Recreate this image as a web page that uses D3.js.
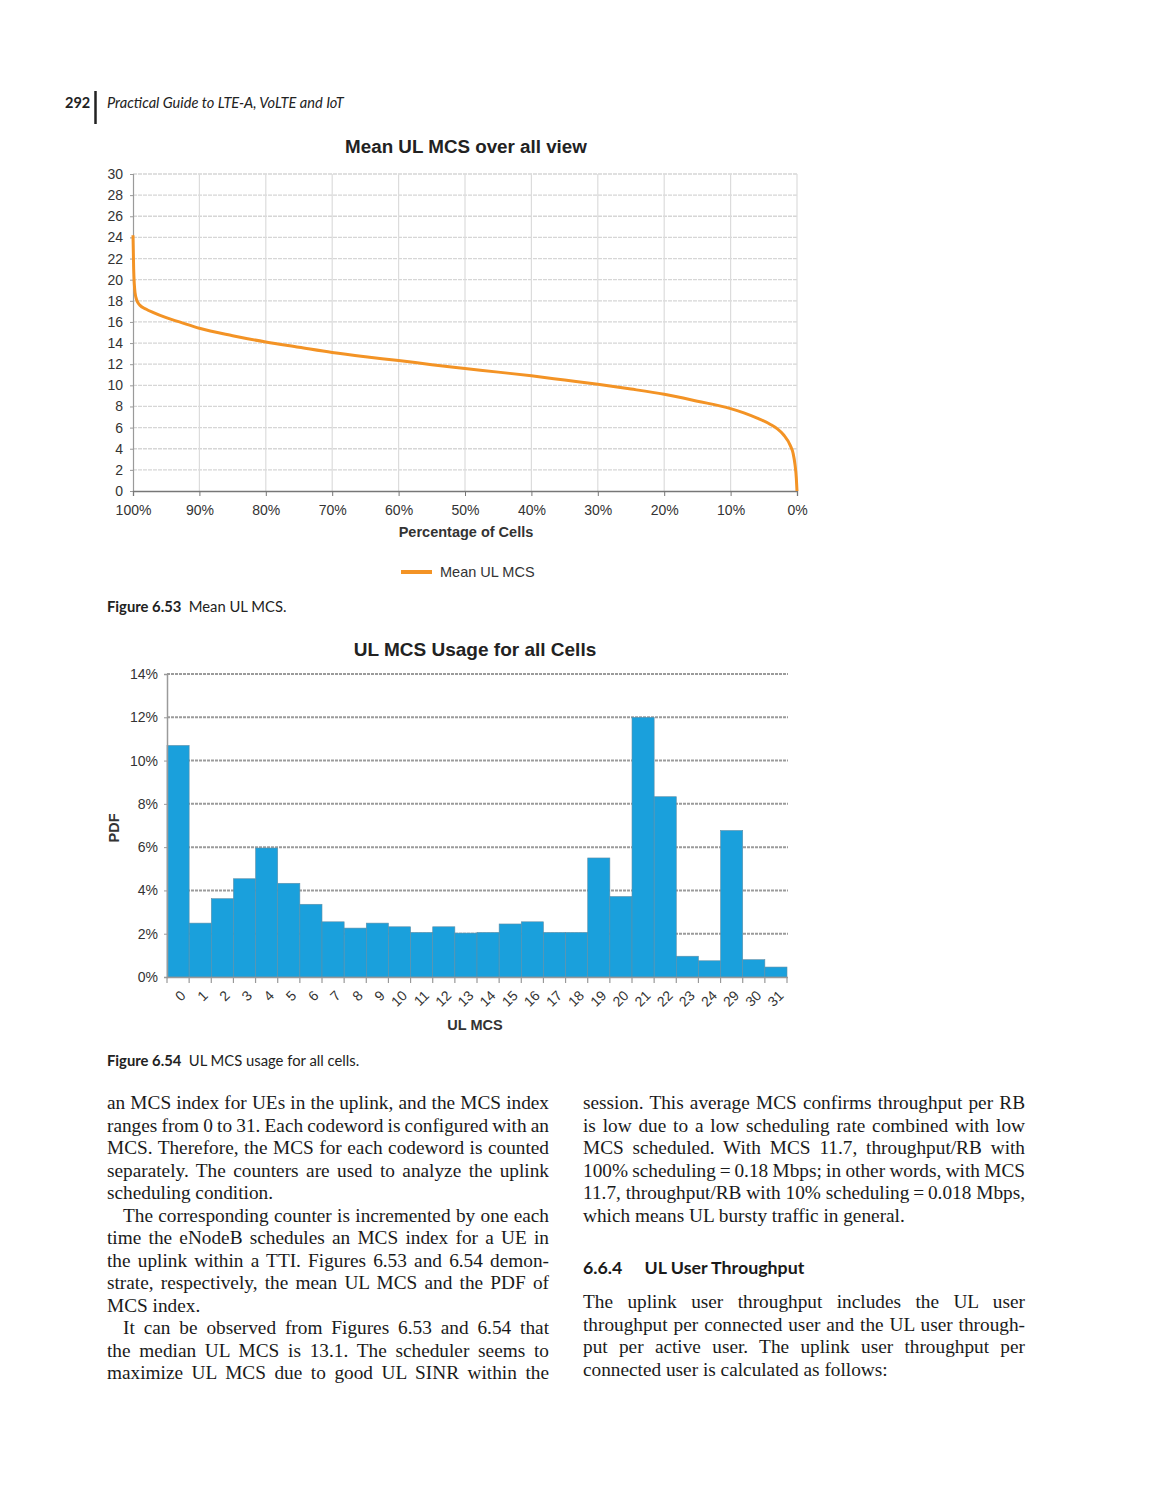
<!DOCTYPE html>
<html><head><meta charset="utf-8">
<script src="https://d3js.org/d3.v7.min.js"></script>
<style>
html,body{margin:0;padding:0;background:#fff;}
svg{display:block;}
</style></head>
<body>
<svg id="page" width="1161" height="1500"></svg>
<script>
// ---------- DATA ----------
const meanTitle = "Mean UL MCS over all view";
const meanPct = [100, 99.9, 99.7, 99.4, 99, 98, 97, 95, 93, 90, 85, 80, 75, 70, 65, 60, 55, 50, 45, 40, 35, 30, 25, 20, 15, 10, 8, 6, 4, 3, 2, 1, 0.6, 0.3, 0.1, 0];
const meanMcs = [24.2, 21, 18.8, 18.0, 17.6, 17.2, 16.9, 16.4, 16.0, 15.4, 14.7, 14.1, 13.6, 13.1, 12.7, 12.35, 11.95, 11.6, 11.25, 10.9, 10.5, 10.1, 9.65, 9.15, 8.5, 7.8, 7.4, 6.9, 6.3, 5.9, 5.3, 4.3, 3.6, 2.5, 1.2, 0];
const meanYTicks = [0,2,4,6,8,10,12,14,16,18,20,22,24,26,28,30];
const meanXTicks = [100,90,80,70,60,50,40,30,20,10,0];

const pdfTitle = "UL MCS Usage for all Cells";
const pdfCats = ["0","1","2","3","4","5","6","7","8","9","10","11","12","13","14","15","16","17","18","19","20","21","22","23","24","29","30","31"];
const pdfVals = [10.7, 2.49, 3.62, 4.54, 5.96, 4.33, 3.36, 2.55, 2.26, 2.49, 2.32, 2.06, 2.32, 2.03, 2.06, 2.45, 2.55, 2.06, 2.06, 5.50, 3.72, 12.0, 8.33, 0.96, 0.75, 6.77, 0.80, 0.46];
const pdfYTicks = [0,2,4,6,8,10,12,14];

const leftLines = [
 ["an MCS index for UEs in the uplink, and the MCS index", true, 0],
 ["ranges from 0 to 31. Each codeword is configured with an", true, 0],
 ["MCS. Therefore, the MCS for each codeword is counted", true, 0],
 ["separately. The counters are used to analyze the uplink", true, 0],
 ["scheduling condition.", false, 0],
 ["The corresponding counter is incremented by one each", true, 16],
 ["time the eNodeB schedules an MCS index for a UE in", true, 0],
 ["the uplink within a TTI. Figures 6.53 and 6.54 demon-", true, 0],
 ["strate, respectively, the mean UL MCS and the PDF of", true, 0],
 ["MCS index.", false, 0],
 ["It can be observed from Figures 6.53 and 6.54 that", true, 16],
 ["the median UL MCS is 13.1. The scheduler seems to", true, 0],
 ["maximize UL MCS due to good UL SINR within the", true, 0]
];
const rightLines1 = [
 ["session. This average MCS confirms throughput per RB", true, 0],
 ["is low due to a low scheduling rate combined with low", true, 0],
 ["MCS scheduled. With MCS 11.7, throughput/RB with", true, 0],
 ["100% scheduling\u2009=\u20090.18 Mbps; in other words, with MCS", true, 0],
 ["11.7, throughput/RB with 10% scheduling\u2009=\u20090.018 Mbps,", true, 0],
 ["which means UL bursty traffic in general.", false, 0]
];
const rightLines2 = [
 ["The uplink user throughput includes the UL user", true, 0],
 ["throughput per connected user and the UL user through-", true, 0],
 ["put per active user. The uplink user throughput per", true, 0],
 ["connected user is calculated as follows:", false, 0]
];

// ---------- PAGE ----------
const svg = d3.select("#page");
const sans = "Liberation Sans, Arial, sans-serif";
const uiSans = "Lato, 'Open Sans', sans-serif";
const serif = "Liberation Serif, 'DejaVu Serif', serif";

// header
svg.append("text").attr("x",65).attr("y",108).attr("font-family",uiSans).attr("font-weight","bold").attr("font-size",14.5).attr("fill","#222").text("292");
svg.append("line").attr("x1",95.5).attr("x2",95.5).attr("y1",91).attr("y2",124).attr("stroke","#222").attr("stroke-width",2.5);
svg.append("text").attr("x",107).attr("y",108).attr("font-family",uiSans).attr("font-style","italic").attr("font-size",14.6).attr("fill","#222").text("Practical Guide to LTE-A, VoLTE and IoT");

// ---------- CHART 1 ----------
{
 const x = d3.scaleLinear().domain([100,0]).range([133,797]);
 const y = d3.scaleLinear().domain([0,30]).range([491,174]);
 const g = svg.append("g");
 g.append("g").selectAll("line").data(meanYTicks.filter(d=>d>0)).join("line")
  .attr("x1",133).attr("x2",797).attr("y1",d=>y(d)).attr("y2",d=>y(d))
  .attr("stroke","#d6d6d6").attr("stroke-width",1.3).attr("stroke-dasharray","4,1");
 g.append("g").selectAll("line").data(meanXTicks.filter(d=>d<100)).join("line")
  .attr("x1",d=>x(d)).attr("x2",d=>x(d)).attr("y1",174).attr("y2",491)
  .attr("stroke","#dcdcdc").attr("stroke-width",1.2);
 const ya = g.append("g").attr("transform","translate(133,0)")
  .call(d3.axisLeft(y).tickValues(meanYTicks).tickSize(3).tickPadding(7).tickFormat(d3.format("d")));
 ya.select(".domain").attr("stroke","#9a9a9a").attr("stroke-width",1.2);
 ya.selectAll(".tick line").attr("stroke","#9a9a9a");
 ya.selectAll("text").attr("font-family",sans).attr("font-size",14).attr("fill","#333");
 const xa = g.append("g").attr("transform","translate(0,491)")
  .call(d3.axisBottom(x).tickValues(meanXTicks).tickSize(5).tickPadding(9).tickFormat(d=>d+"%"));
 xa.select(".domain").attr("stroke","#777").attr("stroke-width",1.3);
 xa.selectAll(".tick line").attr("stroke","#777");
 xa.selectAll("text").attr("font-family",sans).attr("font-size",14).attr("fill","#333");
 const pts = meanPct.map((p,i)=>({p, v:meanMcs[i]}));
 g.append("path").datum(pts)
  .attr("d", d3.line().x(d=>x(d.p)).y(d=>y(d.v)).curve(d3.curveMonotoneX))
  .attr("fill","none").attr("stroke","#f39325").attr("stroke-width",3).attr("stroke-linejoin","round");
 g.append("text").attr("x",466).attr("y",153).attr("text-anchor","middle").attr("font-family",sans).attr("font-weight","bold").attr("font-size",18.8).attr("fill","#222").text(meanTitle);
 g.append("text").attr("x",466).attr("y",537).attr("text-anchor","middle").attr("font-family",sans).attr("font-weight","bold").attr("font-size",14.5).attr("fill","#333").text("Percentage of Cells");
 g.append("line").attr("x1",401).attr("x2",432).attr("y1",572).attr("y2",572).attr("stroke","#f39325").attr("stroke-width",4);
 g.append("text").attr("x",440).attr("y",577).attr("font-family",sans).attr("font-size",14.5).attr("fill","#333").text("Mean UL MCS");
}

// caption 1
{
 const t = svg.append("text").attr("x",107).attr("y",612).attr("font-family",uiSans).attr("font-size",14.8).attr("fill","#222");
 t.append("tspan").attr("font-weight","bold").text("Figure 6.53");
 t.append("tspan").text("\u2002Mean UL MCS.");
}

// ---------- CHART 2 ----------
{
 const x = d3.scaleBand().domain(pdfCats).range([167,787]).padding(0);
 const y = d3.scaleLinear().domain([0,14]).range([977,674]);
 const g = svg.append("g");
 g.append("g").selectAll("line").data(pdfYTicks.filter(d=>d>0)).join("line")
  .attr("x1",167).attr("x2",788).attr("y1",d=>y(d)).attr("y2",d=>y(d))
  .attr("stroke","#9b9b9b").attr("stroke-width",2).attr("stroke-dasharray","3,1");
 g.append("g").selectAll("rect").data(pdfCats).join("rect")
  .attr("x",d=>x(d)).attr("width",x.bandwidth())
  .attr("y",(d,i)=>y(pdfVals[i])).attr("height",(d,i)=>977-y(pdfVals[i]))
  .attr("fill","#1aa0dc").attr("stroke","#5f8fa8").attr("stroke-width",0.6);
 const ya = g.append("g").attr("transform","translate(167,0)")
  .call(d3.axisLeft(y).tickValues(pdfYTicks).tickSize(3).tickPadding(6).tickFormat(d=>d+"%"));
 ya.select(".domain").attr("stroke","#9a9a9a").attr("stroke-width",1.5);
 ya.selectAll(".tick line").attr("stroke","#9a9a9a");
 ya.selectAll("text").attr("font-family",sans).attr("font-size",14).attr("fill","#333");
 g.append("line").attr("x1",167).attr("x2",788).attr("y1",977.5).attr("y2",977.5).attr("stroke","#999").attr("stroke-width",1.3);
 const edges = pdfCats.map(d=>x(d)).concat([x.range()[1]]);
 g.append("g").selectAll("line").data(edges).join("line")
  .attr("x1",d=>d).attr("x2",d=>d).attr("y1",977).attr("y2",983).attr("stroke","#999").attr("stroke-width",1.2);
 g.append("g").selectAll("text").data(pdfCats).join("text")
  .attr("transform",d=>`translate(${x(d)+x.bandwidth()/2+5},${993}) rotate(-45)`)
  .attr("text-anchor","end").attr("dy","0.35em")
  .attr("font-family",sans).attr("font-size",14).attr("fill","#333").text(d=>d);
 g.append("text").attr("x",475).attr("y",656).attr("text-anchor","middle").attr("font-family",sans).attr("font-weight","bold").attr("font-size",19).attr("fill","#222").text(pdfTitle);
 g.append("text").attr("transform","translate(119,828) rotate(-90)").attr("text-anchor","middle").attr("font-family",sans).attr("font-weight","bold").attr("font-size",14.5).attr("fill","#333").text("PDF");
 g.append("text").attr("x",475).attr("y",1030).attr("text-anchor","middle").attr("font-family",sans).attr("font-weight","bold").attr("font-size",14.5).attr("fill","#333").text("UL MCS");
}

// caption 2
{
 const t = svg.append("text").attr("x",107).attr("y",1066).attr("font-family",uiSans).attr("font-size",14.8).attr("fill","#222");
 t.append("tspan").attr("font-weight","bold").text("Figure 6.54");
 t.append("tspan").text("\u2002UL MCS usage for all cells.");
}

// ---------- BODY TEXT ----------
function drawLines(lines, x0, width, y0, lh){
 lines.forEach((ln,i)=>{
  const [txt, just, indent] = ln;
  const t = svg.append("text").attr("x",x0+indent).attr("y",y0+i*lh)
   .attr("font-family",serif).attr("font-size",19.3).attr("fill","#1a1a1a").text(txt);
  if(just){
   const L = t.node().getComputedTextLength();
   const n = (txt.match(/ /g)||[]).length;
   if(n>0){ t.attr("word-spacing", ((width-indent)-L)/n); }
  }
 });
}
drawLines(leftLines, 107, 442, 1109, 22.5);
drawLines(rightLines1, 583, 442, 1109, 22.5);
svg.append("text").attr("x",583).attr("y",1274).attr("font-family",uiSans).attr("font-weight","bold").attr("font-size",17.8).attr("fill","#1a1a1a").attr("xml:space","preserve").text("6.6.4\u2003\u2002UL User Throughput");
drawLines(rightLines2, 583, 442, 1308, 22.5);
</script>
</body></html>
